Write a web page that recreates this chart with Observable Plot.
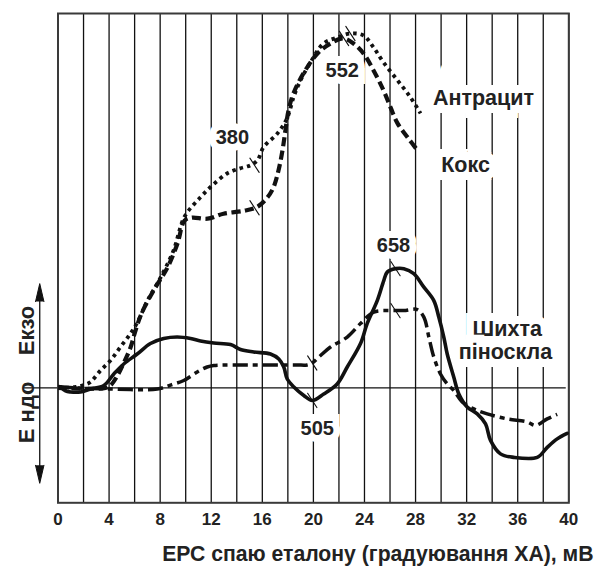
<!DOCTYPE html>
<html>
<head>
<meta charset="utf-8">
<script src="https://cdn.jsdelivr.net/npm/d3@7"></script>
<script src="https://cdn.jsdelivr.net/npm/@observablehq/plot@0.6"></script>
<style>
  html, body { margin: 0; padding: 0; background: #fff; }
  #chart svg { display: block; overflow: visible; }
</style>
</head>
<body>
<div id="chart"></div>
<script>
// Термограми: ЕРС спаю еталону (мВ) та тепловий ефект (відн. од.)
const anthracite = [
  [0, 0], [1.37, 0.2], [2.15, 0.7], [2.55, 1.2], [3.33, 3.5], [4.11, 5.5], [4.89, 8.2],
  [5.68, 10.9], [6.23, 13.2], [7.01, 17.5], [8.03, 22.1], [9.04, 27.5], [9.91, 34.3],
  [11.16, 38.2], [12.1, 40.6], [13.27, 43.0], [14.29, 44.0], [15.07, 44.6], [15.62, 45.6],
  [16.09, 48.2], [17.19, 51.0], [17.97, 54.2], [18.44, 58.2], [18.99, 61.6], [19.77, 65.2],
  [20.79, 69.0], [21.89, 70.2], [22.91, 71.0], [23.92, 70.6], [24.71, 68.2], [25.49, 65.2],
  [26.59, 61.6], [27.61, 58.2], [28.39, 55.0]
];

const coke = [
  [0, 0], [3.72, 0], [4.11, 0.5], [4.66, 2.5], [5.13, 4.9], [5.68, 8.1], [6.07, 11.5],
  [6.54, 14.9], [7.48, 19.5], [8.57, 24.1], [9.35, 28.9], [9.91, 33.5], [10.46, 34.1],
  [11.71, 33.9], [12.96, 34.9], [14.6, 35.5], [15.62, 36.3], [16.41, 38.2], [16.88, 40.2],
  [17.27, 43.6], [17.58, 47.6], [17.81, 51.6], [18.05, 55.6], [18.44, 59.0], [19.22, 63.0],
  [20.32, 67.0], [21.34, 69.0], [22.36, 70.0], [23.14, 69.0], [23.92, 67.0], [24.71, 63.6],
  [25.49, 59.6], [26.04, 56.2], [26.59, 53.0], [27.37, 50.2], [28.15, 47.6]
];

const batch = [
  [0.2, 0.2], [0.59, -0.6], [0.98, -0.8], [1.76, -0.8], [2.55, -0.2], [3.59, 0.5],
  [4.37, 2.8], [5.15, 4.8], [6.2, 6.8], [7.24, 8.9], [8.28, 9.9], [9.33, 10.2],
  [10.38, 9.9], [11.16, 9.4], [12.2, 9.0], [13.51, 8.7], [14.29, 7.7], [15.33, 7.2],
  [16.64, 6.8], [17.29, 5.8], [17.68, 4.2], [17.95, 1.8], [18.47, 0.2], [19.25, -1.5],
  [19.91, -2.5], [20.81, -1.2], [21.86, 0.8], [22.65, 4.2], [23.69, 8.9], [24.21, 12.9],
  [25.0, 17.5], [25.51, 21.5], [25.78, 23.2], [26.43, 23.9], [27.08, 23.9], [27.86, 22.9],
  [28.65, 20.2], [29.43, 17.5], [29.82, 14.2], [30.21, 10.2], [30.48, 6.8], [30.99, 2.2],
  [31.39, -1.2], [32.04, -3.8], [32.83, -5.2], [33.48, -7.2], [33.87, -10.5], [34.65, -13.2],
  [35.69, -13.9], [37.53, -13.9], [38.31, -11.9], [39.09, -10.2], [39.87, -9.1]
];

const foamGlass = [
  [0, 0.3], [1.37, 0], [4.11, -0.2], [7.77, -0.2], [9.07, 0.8], [9.85, 1.5], [10.9, 3.2],
  [11.68, 4.2], [12.2, 4.5], [15.07, 4.6], [17.42, 4.6], [18.73, 4.6], [19.51, 4.6],
  [19.91, 5.0], [20.56, 6.5], [21.34, 8.2], [22.65, 10.2], [23.69, 12.9], [24.73, 15.2],
  [26.04, 15.5], [27.08, 15.5], [28.13, 15.7], [28.65, 14.2], [29.04, 10.2], [29.43, 6.2],
  [29.95, 2.8], [30.48, 0.8], [30.99, -0.5], [31.65, -2.8], [32.56, -4.2], [33.61, -5.2],
  [35.18, -6.2], [36.74, -6.8], [37.39, -7.5], [38.31, -6.2], [39.09, -5.3]
];

// Позначки характерних точок на кривих
const peakMarks = [
  [15.39, 44.6], [15.39, 36.1], [22.9, 71.0], [22.4, 70.0],
  [19.91, -2.5], [26.43, 23.9], [19.91, 5.0], [26.43, 15.5]
];

// Підписи температур у характерних точках
const peakLabels = ["380", "552", "658", "505"];
const peakLabelPos = [[13.66, 50.2], [22.26, 63.6], [26.27, 28.5], [20.3, -8.1]];

// Назви кривих
const seriesNames = ["Антрацит", "Кокс", "Шихта", "піноскла"];
const seriesNamePos = [[33.32, 58.0], [31.91, 44.6], [35.18, 11.7], [35.04, 7.2]];

const xTicks = [0, 4, 8, 12, 16, 20, 24, 28, 32, 36, 40];
const xGrid = d3.range(0, 41, 2);
const xTitle = "ЕРС спаю еталону (градуювання ХА), мВ";
const effectLabels = ["Екзо", "Е ндо"];

const font = "'Liberation Sans', Arial, Helvetica, sans-serif";
const ink = "#111";

const spikeUpDown = [[-1.43, 20.9, 0], [-1.43, -19.1, 180]];

const lineShape = {
  draw(context, l) {
    context.moveTo(0, 0);
    context.lineTo(0, -l);
  }
};

const chart = Plot.plot({
  width: 598,
  height: 568,
  marginTop: 13,
  marginBottom: 65.7,
  marginLeft: 57.5,
  marginRight: 29.7,
  style: { background: "#fff", fontFamily: font, color: ink },
  x: { domain: [0, 40] },
  y: { domain: [-23, 75], axis: null },
  marks: [
    // вертикальна сітка
    Plot.ruleX(xGrid, { stroke: ink, strokeWidth: 1.3 }),
    // нульова лінія
    Plot.ruleY([0], { x1: -2.7, x2: 39.8, stroke: ink, strokeWidth: 1.3 }),
    Plot.frame({ stroke: "#3a3a3a", strokeWidth: 2 }),
    // вісь ефектів: екзо вгору, ендо вниз
    Plot.ruleX([-1.43], { y1: -17, y2: 19, stroke: ink, strokeWidth: 1.3 }),
    Plot.vector(spikeUpDown, {
      x: d => d[0], y: d => d[1], rotate: d => d[2],
      shape: "spike", anchor: "end", length: 18, r: 4.2,
      fill: ink, stroke: ink, strokeWidth: 1
    }),
    Plot.text([effectLabels[0]], {
      x: -2.47, y: 11.5, text: d => d, rotate: -90,
      fontSize: 22, fontWeight: "bold", fill: "#222"
    }),
    Plot.text([effectLabels[1]], {
      x: -2.47, y: -4.9, text: d => d, rotate: -90,
      fontSize: 22, fontWeight: "bold", fill: "#222"
    }),
    // підписи з білим тлом
    Plot.text(peakLabels, {
      x: (d, i) => peakLabelPos[i][0], y: (d, i) => peakLabelPos[i][1], text: d => d,
      fontSize: 20, fontWeight: "bold", fill: "#222",
      stroke: "white", strokeWidth: 14, strokeLinejoin: "miter"
    }),
    Plot.text(seriesNames, {
      x: (d, i) => seriesNamePos[i][0], y: (d, i) => seriesNamePos[i][1], text: d => d,
      fontSize: 21.5, fontWeight: "bold", fill: "#222",
      stroke: "white", strokeWidth: 16, strokeLinejoin: "miter"
    }),
    // криві
    Plot.line(foamGlass, {
      x: d => d[0], y: d => d[1], curve: "catmull-rom",
      stroke: ink, strokeWidth: 3.5, strokeDasharray: "15,5,5,5", strokeLinecap: "butt"
    }),
    Plot.line(batch, {
      x: d => d[0], y: d => d[1], curve: "catmull-rom",
      stroke: ink, strokeWidth: 3.6
    }),
    Plot.line(coke, {
      x: d => d[0], y: d => d[1], curve: "catmull-rom",
      stroke: ink, strokeWidth: 4.2, strokeDasharray: "9,4.5", strokeLinecap: "butt"
    }),
    Plot.line(anthracite, {
      x: d => d[0], y: d => d[1], curve: "catmull-rom",
      stroke: ink, strokeWidth: 3.8, strokeDasharray: "3.5,4", strokeLinecap: "butt"
    }),
    Plot.vector(peakMarks, {
      x: d => d[0], y: d => d[1], rotate: -33, length: 17,
      shape: lineShape, anchor: "middle", stroke: ink, strokeWidth: 1.1
    }),
    // вісь абсцис
    Plot.axisX({
      ticks: xTicks, tickSize: 0, tickPadding: 10, label: null,
      fontSize: 17, fontWeight: "bold", fill: "#222"
    }),
    Plot.text([xTitle], {
      x: 25.05, y: -23, dy: 51, text: d => d,
      fontSize: 21.2, fontWeight: "bold", fill: "#222"
    })
  ]
});

document.getElementById("chart").appendChild(chart);
</script>
</body>
</html>
